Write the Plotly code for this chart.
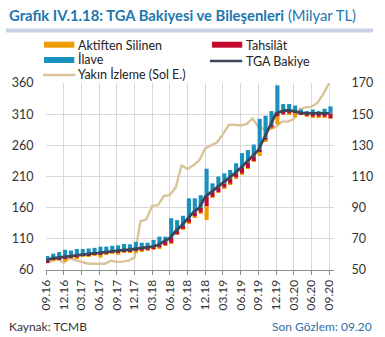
import plotly.graph_objects as go
import pandas as pd

# ---------------- data ----------------
months = [d.strftime("%m.%y") for d in pd.date_range("2016-09-01", "2020-09-01", freq="MS")]
tick_labels = ["09.16", "12.16", "03.17", "06.17", "09.17", "12.17", "03.18", "06.18", "09.18",
               "12.18", "03.19", "06.19", "09.19", "12.19", "03.20", "06.20", "09.20"]

tga_bakiye = [56, 57.5, 58, 58.5, 59, 59.5, 60, 60.3, 60.7, 61, 61.5, 62, 62.3, 62.7, 63, 63.5,
              64, 64.5, 65, 66, 68, 70.5, 75, 78.5, 83, 87, 90, 97, 100, 103, 105.5, 108.5,
              112, 115.5, 119, 123, 127, 135, 143, 150.5, 152, 152.5, 152, 151, 150.5, 150.5,
              150.5, 150.5, 150.5]
ilave = [3, 3, 3.5, 4.5, 3.5, 4, 3.5, 3.5, 3.5, 4, 3.5, 3.5, 3.5, 4, 3.5, 4.5,
         3.5, 3, 4.3, 5.4, 3.4, 12.7, 7, 6.3, 13, 9, 8, 18, 5.6, 7, 6.5, 5.7,
         6.5, 9.5, 8, 7.5, 20, 14, 9, 18, 4.5, 4, 3.5, 2, 1.5, 2.5, 1.5, 3, 4.5]
tahsilat = [1, 1, 1, 1.5, 1, 1.5, 1, 1, 1, 1, 1, 1, 1, 1, 1, 1,
            1.5, 1.5, 1.5, 1.5, 2, 3, 2, 2, 2.5, 2.5, 3, 6, 3, 3, 2.5, 3,
            2.5, 3.5, 3.5, 3, 0.8, 1.5, 1.5, 2, 2, 2, 1.5, 1, 1.5, 2, 2, 2, 3]
aktiften = [0.5, 0.5, 0.5, 1.5, 0.5, 0.5, 0.5, 0.5, 0.5, 2, 0.5, 0.5, 1.5, 0.5, 0.5, 1.2,
            0.5, 0.5, 0.5, 0.5, 0.5, 0.5, 0.5, 0.5, 0.7, 0.5, 0.5, 9, 0.5, 0.5, 0.5, 0.8,
            0.5, 0.5, 0.5, 0.5, 3, 1, 1, 5, 0.5, 0.5, 2.5, 0.5, 0.5, 0.5, 0.5, 0.5, 0.3]
yakin_izleme = [72, 75, 77, 72, 79, 76, 73, 70.5, 70, 69.5, 70, 75, 73, 73.5, 75, 80,
                138, 141, 163, 164, 179, 180, 193, 228, 222, 228, 236, 255, 260, 265, 278, 293,
                293, 292, 294, 303, 290, 286, 286, 290, 298, 298, 302, 318, 321, 322, 328, 342, 360]

# ---------------- styles ----------------
C_ORANGE = "#EE9B00"
C_BLUE = "#1A90BD"
C_RED = "#C4082F"
C_DARK = "#3D4759"
C_BEIGE = "#D9C39A"
C_TITLE = "#1C77AE"
FONT = "Lato"

x = list(range(len(months)))
tickvals = [months.index(t) for t in tick_labels]

base_red = [b - t for b, t in zip(tga_bakiye, tahsilat)]
base_orange = [b - t - a for b, t, a in zip(tga_bakiye, tahsilat, aktiften)]

fig = go.Figure()
fig.add_trace(go.Scatter(x=x, y=yakin_izleme, mode="lines", line=dict(color=C_BEIGE, width=2.4),
                         name="Yakın İzleme (Sol E.)", yaxis="y"))
bar_kw = dict(width=0.7, offset=-0.12, yaxis="y2", marker_line_width=0)
fig.add_trace(go.Bar(x=x, y=aktiften, base=base_orange, marker_color=C_ORANGE, name="Aktiften Silinen", **bar_kw))
fig.add_trace(go.Bar(x=x, y=tahsilat, base=base_red, marker_color=C_RED, name="Tahsilât", **bar_kw))
fig.add_trace(go.Bar(x=x, y=ilave, base=tga_bakiye, marker_color=C_BLUE, name="İlave", **bar_kw))
fig.add_trace(go.Scatter(x=x, y=tga_bakiye, mode="lines", line=dict(color=C_DARK, width=2.8),
                         name="TGA Bakiye", yaxis="y2"))

L, R, T, B = 45, 45, 83, 67
W, H = 385, 337
PW, PH = W - L - R, H - T - B

fig.update_layout(
    width=W, height=H, margin=dict(l=L, r=R, t=T, b=B),
    paper_bgcolor="white", plot_bgcolor="white",
    barmode="overlay", showlegend=False,
    font=dict(family=FONT, size=12, color="#333333"),
    xaxis=dict(range=[0, 48.83], tickvals=tickvals, ticktext=tick_labels, tickangle=-90,
               showgrid=True, gridcolor="#D9D9D9", gridwidth=1,
               showline=True, linecolor="#8C8C8C", linewidth=1,
               ticks="outside", ticklen=4, tickcolor="#8C8C8C",
               tickfont=dict(size=12, color="#333333"), zeroline=False, fixedrange=True),
    yaxis=dict(range=[60, 360], tickvals=[60, 110, 160, 210, 260, 310, 360],
               showgrid=True, gridcolor="#D9D9D9", gridwidth=1, zeroline=False,
               ticks="outside", ticklen=9, tickcolor="rgba(0,0,0,0)",
               tickfont=dict(size=12.5, color="#333333")),
    yaxis2=dict(range=[50, 170], tickvals=[50, 70, 90, 110, 130, 150, 170], overlaying="y",
                side="right", showgrid=False, zeroline=False,
                ticks="outside", ticklen=14, tickcolor="rgba(0,0,0,0)",
                tickfont=dict(size=12.5, color="#333333")),
)

# convert figure pixels to paper (plot-area) coordinates
def px(xp):
    return (xp - L) / PW

def py(yp):
    return 1 - (yp - T) / PH

shapes = []
annotations = []
# title separator bar
shapes.append(dict(type="rect", xref="paper", yref="paper", x0=px(4), x1=px(380), y0=py(32.5), y1=py(28.5),
                   fillcolor="#C8D2E2", line_width=0, layer="above"))
# title
annotations.append(dict(xref="paper", yref="paper", x=px(5), y=py(15), xanchor="left", yanchor="middle",
                        showarrow=False,
                        text="<b>Grafik IV.1.18: TGA Bakiyesi ve Bileşenleri</b> (Milyar TL)",
                        font=dict(family=FONT, size=14.8, color=C_TITLE)))

# legend (manual)
def swatch(x0, yc, color):
    shapes.append(dict(type="rect", xref="paper", yref="paper", x0=px(x0), x1=px(x0 + 31),
                       y0=py(yc + 3), y1=py(yc - 3), fillcolor=color, line_width=0))

def line_sw(x0, yc, color, w):
    shapes.append(dict(type="line", xref="paper", yref="paper", x0=px(x0), x1=px(x0 + 33),
                       y0=py(yc), y1=py(yc), line=dict(color=color, width=w)))

def label(x0, yc, text):
    annotations.append(dict(xref="paper", yref="paper", x=px(x0), y=py(yc), xanchor="left",
                            yanchor="middle", showarrow=False, text=text,
                            font=dict(family=FONT, size=12.5, color="#222222")))

swatch(43, 44.7, C_ORANGE); label(76, 45, "Aktiften Silinen")
swatch(43, 60, C_BLUE); label(76, 60, "İlave")
line_sw(42, 75, C_BEIGE, 2.5); label(76, 74, "Yakın İzleme (Sol E.)")
swatch(215, 44.7, C_RED); label(248, 45, "Tahsilât")
line_sw(213, 61, C_DARK, 2.5); label(248, 61, "TGA Bakiye")

# footer
annotations.append(dict(xref="paper", yref="paper", x=px(5), y=py(326), xanchor="left", yanchor="middle",
                        showarrow=False, text="Kaynak: TCMB",
                        font=dict(family=FONT, size=12, color="#333333")))
annotations.append(dict(xref="paper", yref="paper", x=px(381), y=py(326), xanchor="right", yanchor="middle",
                        showarrow=False, text="Son Gözlem: 09.20",
                        font=dict(family=FONT, size=12, color="#2F6EA8")))

fig.update_layout(shapes=shapes, annotations=annotations)
fig.write_html("out.html", config={"displayModeBar": False})
